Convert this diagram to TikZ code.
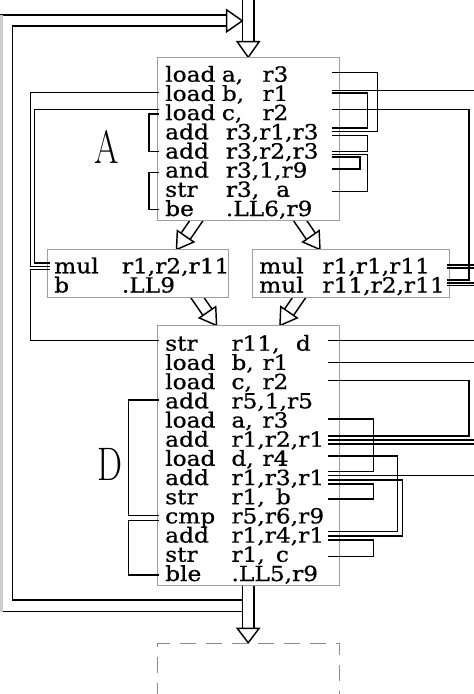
\documentclass[tikz,border=0pt]{standalone}
\usepackage{fontspec}
\usepackage{graphicx}
\newfontfamily\codefont[FakeStretch=1.12,FakeBold=0.6]{DejaVu Serif}
\tikzset{
  conn/.style={line width=1.45pt, black, line cap=butt, line join=miter},
  blk/.style={draw=black!38, line width=1pt, fill=white, inner sep=0pt, anchor=north west},
  dashblk/.style={draw=black!45, line width=1pt, dash pattern=on 16pt off 10pt, inner sep=0pt, anchor=north west},
  code/.style={anchor=base west, inner sep=0pt, font=\codefont\fontsize{20.8}{20.8}\selectfont},
  biglab/.style={anchor=base, inner sep=0pt, font=\fontsize{47}{47}\selectfont},
}
% hollow arrow: #1 start, #2 angle, #3 length, #4 shaft half width, #5 head half width, #6 head length
\newcommand\harrow[6]{%
  \begin{scope}[shift={#1},rotate=#2]
    \draw[conn] (0,#4) -- (#3-#6,#4);
    \draw[conn] (0,-#4) -- (#3-#6,-#4);
    \draw[conn,fill=white] (#3-#6,#5) -- (#3,0) -- (#3-#6,-#5) -- cycle;
  \end{scope}}
\begin{document}
\begin{tikzpicture}[x=1pt,y=-1pt]
\useasboundingbox (0,0) rectangle (474,694);

% ---------- hollow arrows (under the boxes)
\harrow{(248.2,-5)}{-90}{62.3}{5.85}{11}{15.6}
\harrow{(248.2,575)}{-90}{67.7}{5.85}{11}{14.4}
\harrow{(200.3,214.9)}{-124.5}{42}{5.5}{10}{16}
\harrow{(296.2,214.9)}{-55.5}{42}{5.5}{10}{16}
\harrow{(193.9,292.5)}{-55.5}{40}{5.5}{10}{16}
\harrow{(302.6,292.5)}{-124.5}{40}{5.5}{10}{16}

% ---------- boxes
\node[blk, minimum width=182pt, minimum height=163pt] (A) at (157.3,57) {};
\node[blk, minimum width=181.6pt, minimum height=47.7pt] (ML) at (46.7,249.3) {};
\node[blk, minimum width=197.6pt, minimum height=47.7pt] (MR) at (251.7,249.3) {};
\node[blk, minimum width=182pt, minimum height=260pt] (D) at (157.3,325) {};
\node[dashblk, minimum width=182pt, minimum height=90pt] (E) at (157.3,642.7) {};

% ---------- big labels
\node[biglab] (labA) at (106.3,163.3) {\scalebox{0.75}[1]{A}};
\node[biglab] (labD) at (110,480) {\scalebox{0.75}[1]{D}};

% ---------- code of block A
\node[code] (a1) at (165,81.7)  {\makebox[56.7pt][l]{load}\makebox[40.6pt][l]{a,}r3};
\node[code] (a2) at (165,100.9) {\makebox[56.7pt][l]{load}\makebox[40.6pt][l]{b,}r1};
\node[code] (a3) at (165,120.1) {\makebox[56.7pt][l]{load}\makebox[40.6pt][l]{c,}r2};
\node[code] (a4) at (165,139.3) {\makebox[60.7pt][l]{add}r3,r1,r3};
\node[code] (a5) at (165,158.5) {\makebox[60.7pt][l]{add}r3,r2,r3};
\node[code] (a6) at (165,177.6) {\makebox[60.7pt][l]{and}r3,1,r9};
\node[code] (a7) at (165,196.8) {\makebox[60.7pt][l]{str}\makebox[50.3pt][l]{r3,}a};
\node[code] (a8) at (165,216.0) {\makebox[60.7pt][l]{be}.LL6,r9};

% ---------- code of the two mul blocks
\node[code] (l1) at (54,273.3) {\makebox[67.7pt][l]{mul}r1,r2,r11};
\node[code] (l2) at (54,292.5) {\makebox[67.7pt][l]{b}.LL9};
\node[code] (r1) at (259,273.3) {\makebox[63.3pt][l]{mul}r1,r1,r11};
\node[code] (r2) at (259,292.5) {\makebox[63.3pt][l]{mul}r11,r2,r11};

% ---------- code of block D
\node[code] (d1)  at (165,350.7) {\makebox[66.3pt][l]{str}\makebox[64.4pt][l]{r11,}d};
\node[code] (d2)  at (165,369.9) {\makebox[66.3pt][l]{load}\makebox[31pt][l]{b,}r1};
\node[code] (d3)  at (165,389.1) {\makebox[66.3pt][l]{load}\makebox[31pt][l]{c,}r2};
\node[code] (d4)  at (165,408.3) {\makebox[66.3pt][l]{add}r5,1,r5};
\node[code] (d5)  at (165,427.5) {\makebox[66.3pt][l]{load}\makebox[31pt][l]{a,}r3};
\node[code] (d6)  at (165,446.7) {\makebox[66.3pt][l]{add}r1,r2,r1};
\node[code] (d7)  at (165,465.8) {\makebox[66.3pt][l]{load}\makebox[31pt][l]{d,}r4};
\node[code] (d8)  at (165,485.0) {\makebox[66.3pt][l]{add}r1,r3,r1};
\node[code] (d9)  at (165,504.2) {\makebox[66.3pt][l]{str}\makebox[44.4pt][l]{r1,}b};
\node[code] (d10) at (165,523.4) {\makebox[66.3pt][l]{cmp}r5,r6,r9};
\node[code] (d11) at (165,542.6) {\makebox[66.3pt][l]{add}r1,r4,r1};
\node[code] (d12) at (165,561.8) {\makebox[66.3pt][l]{str}\makebox[44.4pt][l]{r1,}c};
\node[code] (d13) at (165,581.0) {\makebox[66.3pt][l]{ble}.LL5,r9};

% ---------- ports
% A right
\coordinate (pA1r)  at (332.3,72.3);
\coordinate (pA2ra) at (332.3,90.3);
\coordinate (pA2rb) at (332.3,92.8);
\coordinate (pA3r)  at (332.3,109.3);
\coordinate (pA4ra) at (332.3,128.0);
\coordinate (pA4rb) at (332.3,131.7);
\coordinate (pA4rc) at (332.3,135.4);
\coordinate (pA5ra) at (332.3,151.4);
\coordinate (pA5rb) at (332.3,154.3);
\coordinate (pA5rc) at (332.3,157.2);
\coordinate (pA6r)  at (332.3,169.0);
\coordinate (pA7r)  at (332.3,191.7);
% A left
\coordinate (pA2l)  at (158.8,92.3);
\coordinate (pA3la) at (158.8,109.3);
\coordinate (pA3lb) at (158.8,114.0);
\coordinate (pA5l)  at (158.8,151.7);
\coordinate (pA6l)  at (158.8,172.5);
\coordinate (pA8l)  at (158.8,209.5);
% mul left
\coordinate (pML1a) at (50,263.0);
\coordinate (pML1b) at (50,266.3);
\coordinate (pML1c) at (50,269.7);
% mul right
\coordinate (pMR1a) at (446.7,265.0);
\coordinate (pMR1b) at (446.7,268.0);
\coordinate (pMR2a) at (446.7,280.0);
\coordinate (pMR2b) at (446.7,282.8);
\coordinate (pMR2c) at (446.7,285.6);
% D right
\coordinate (pD1r)   at (328.3,340.7);
\coordinate (pD2r)   at (328.3,362.3);
\coordinate (pD3r)   at (328.3,380.7);
\coordinate (pD5r)   at (328.3,419.0);
\coordinate (pD6ra)  at (328.3,436.0);
\coordinate (pD6rb)  at (328.3,440.0);
\coordinate (pD6rc)  at (328.3,444.0);
\coordinate (pD7r)   at (328.3,456.0);
\coordinate (pD8ra)  at (328.3,471.7);
\coordinate (pD8rb)  at (328.3,475.7);
\coordinate (pD8rc)  at (328.3,480.0);
\coordinate (pD8rd)  at (328.3,484.0);
\coordinate (pD9r)   at (328.3,499.0);
\coordinate (pD11ra) at (328.3,531.7);
\coordinate (pD11rb) at (328.3,536.0);
\coordinate (pD11rc) at (328.3,540.0);
\coordinate (pD12r)  at (328.3,556.7);
% D left
\coordinate (pD1l)   at (158.5,340.7);
\coordinate (pD4l)   at (158.5,400.0);
\coordinate (pD10la) at (158.5,515.5);
\coordinate (pD10lb) at (158.5,520.5);
\coordinate (pD13l)  at (158.5,575.0);
% loop ends
\coordinate (pOutB) at (242.3,611.7);
\coordinate (pInB)  at (242.3,600.0);
\coordinate (hOut)  at (226.7,15.0);
\coordinate (hIn)   at (226.7,26.0);
\coordinate (lOutB) at (-2,611.7);
\coordinate (lOutT) at (-2,15.0);
\coordinate (lInC)  at (12.3,26.0);

% ---------- connectors of block A
\draw[conn] (pA1r) -- ++(45.4,0) |- (pA4rb);
\draw[conn] (pA2rb) -- ++(35.4,0) |- (pA4ra);
\draw[conn] (pA4rc) -- ++(35.4,0) |- (pA5ra);
\draw[conn] (pA5rb) -- ++(35.4,0) |- (pA7r);
\draw[conn] (pA5rc) -- ++(27.7,0) |- (pA6r);
\draw[conn] (pA2ra) -- ++(150,0);
\draw[conn] (pA3r) -- ++(136.7,0) |- (pMR2a);
\draw[conn] (pA3lb) -- ++(-10,0) |- (pA5l);
\draw[conn] (pA6l) -- ++(-10,0) |- (pA8l);
\draw[conn] (pA2l) -- ++(-128.1,0) |- (pML1b);
\draw[conn] (pA3la) -- ++(-124.3,0) |- (pML1a);
\draw[conn] (pML1c) -- ++(-19.3,0) |- (pD1l);

% ---------- connectors of the mul blocks to the right
\draw[conn] (pMR1a) -- ++(40,0);
\draw[conn] (pMR1b) -- ++(40,0);
\draw[conn] (pMR2b) -- ++(40,0);
\draw[conn] (pMR2c) -- ++(40,0);

% ---------- connectors of block D
\draw[conn] (pD1r) -- ++(150,0);
\draw[conn] (pD2r) -- ++(150,0);
\draw[conn] (pD3r) -- ++(140.7,0) |- (pD6ra);
\draw[conn] (pD5r) -- ++(45,0) |- (pD8ra);
\draw[conn] (pD6rb) -- ++(150,0);
\draw[conn] (pD6rc) -- ++(150,0);
\draw[conn] (pD7r) -- ++(69.4,0) |- (pD11ra);
\draw[conn] (pD8rb) -- ++(150,0);
\draw[conn] (pD8rc) -- ++(74,0) |- (pD11rb);
\draw[conn] (pD8rd) -- ++(45,0) |- (pD9r);
\draw[conn] (pD11rc) -- ++(45,0) |- (pD12r);
\draw[conn] (pD4l) -- ++(-30.2,0) |- (pD10la);
\draw[conn] (pD10lb) -- ++(-30.2,0) |- (pD13l);

% ---------- loop back to the top
\draw[conn] (pOutB) -- (lOutB);
\draw[conn] (lOutT) -- (hOut);
\draw[black!20, line width=2.6pt] (1.3,15) -- (1.3,611.7);
\draw[conn] (pInB) -| (lInC) -- (hIn);
\draw[conn,fill=white] (226.7,9.9) -- (242.3,20.8) -- (226.7,31.7) -- cycle;
\end{tikzpicture}
\end{document}
